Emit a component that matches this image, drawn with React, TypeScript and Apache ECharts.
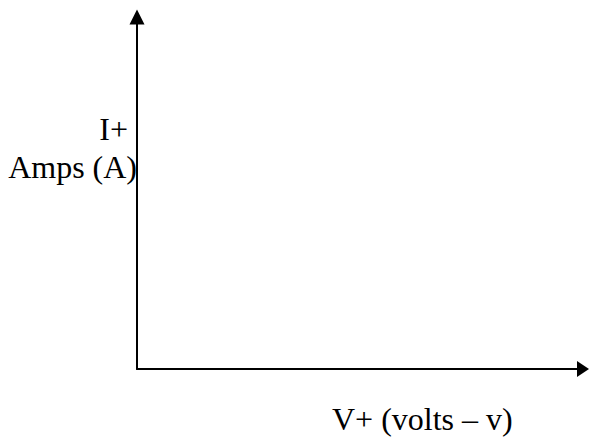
import React, { useEffect, useRef } from "react";
import * as echarts from "echarts";

const xAxisLabel = "V+ (volts – v)";
const yAxisLabelLines = ["I+", "Amps (A)"];
const xRange = [0, 1];
const yRange = [0, 1];

export default function App() {
  const ref = useRef<HTMLDivElement>(null);
  useEffect(() => {
    const chart = echarts.init(ref.current!, undefined, { renderer: "svg" });
    const font = '"Liberation Serif", "Times New Roman", serif';
    chart.setOption({
      animation: false,
      backgroundColor: "#ffffff",
      grid: { left: 137, right: 6, top: 17, bottom: 69 },
      xAxis: {
        type: "value",
        min: xRange[0],
        max: xRange[1],
        axisLine: {
          show: true,
          symbol: ["none", "triangle"],
          symbolSize: [16, 12],
          lineStyle: { color: "#000", width: 2 },
        },
        axisTick: { show: false },
        axisLabel: { show: false },
        splitLine: { show: false },
      },
      yAxis: {
        type: "value",
        min: yRange[0],
        max: yRange[1],
        axisLine: {
          show: true,
          symbol: ["none", "triangle"],
          symbolSize: [15, 15],
          lineStyle: { color: "#000", width: 2 },
        },
        axisTick: { show: false },
        axisLabel: { show: false },
        splitLine: { show: false },
      },
      series: [],
      graphic: [
        {
          type: "text",
          right: 589 - 128,
          top: 113,
          style: { text: yAxisLabelLines[0], font: `32px ${font}`, fill: "#000" },
        },
        {
          type: "text",
          right: 589 - 137,
          top: 151,
          style: { text: yAxisLabelLines[1], font: `32px ${font}`, fill: "#000" },
        },
        {
          type: "text",
          left: 332,
          top: 403,
          style: { text: xAxisLabel, font: `32px ${font}`, fill: "#000" },
        },
      ],
    });
    return () => chart.dispose();
  }, []);
  return (
    <div
      ref={ref}
      style={{ position: "fixed", left: 0, top: 0, width: 589, height: 438 }}
    />
  );
}
